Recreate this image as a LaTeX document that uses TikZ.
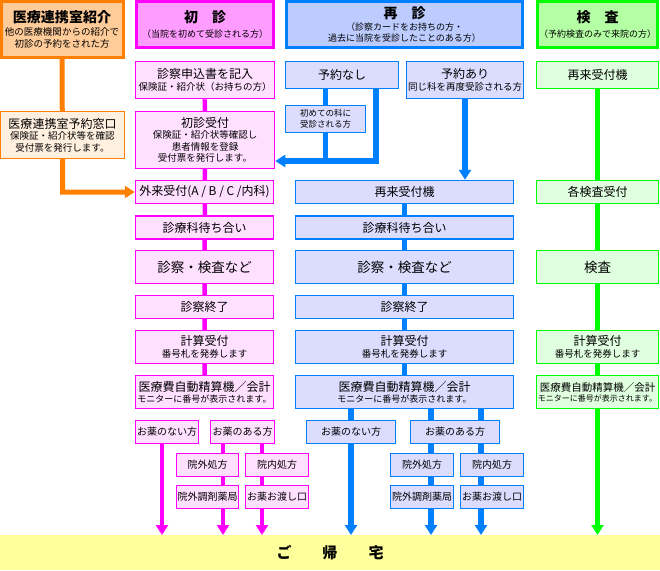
\documentclass[tikz,border=0pt]{standalone}
\usepackage{fontspec}
\setmainfont{Noto Sans CJK JP}
\usetikzlibrary{arrows.meta,backgrounds}
\definecolor{pkline}{HTML}{FF00FF}
\definecolor{pkfill}{HTML}{FFE0FF}
\definecolor{pkhfill}{HTML}{FF9CFF}
\definecolor{buline}{HTML}{0080FF}
\definecolor{bufill}{HTML}{DCDCFF}
\definecolor{buhfill}{HTML}{BCCCFF}
\definecolor{grline}{HTML}{00FF00}
\definecolor{grfill}{HTML}{E0FFE0}
\definecolor{grhfill}{HTML}{B4FFA4}
\definecolor{orline}{HTML}{FF8000}
\definecolor{orfill}{HTML}{FFF0E0}
\definecolor{orhfill}{HTML}{FFCC99}
\definecolor{homefill}{HTML}{FFFF9C}
\newcommand\headfs{\fontsize{14}{17}\selectfont\bfseries}
\newcommand\mainfs{\fontsize{12}{14}\selectfont}
\newcommand\subfs{\fontsize{9.5}{11.5}\selectfont}
\newcommand\hsubfs{\fontsize{9}{11}\selectfont}
\newcommand\smallfs{\fontsize{10}{12}\selectfont}

\begin{document}
\begin{tikzpicture}[x=1pt, y=-1pt,
  every node/.style={draw, inner sep=0pt, align=center, font=\mainfs, line width=1.5pt},
  sz/.style 2 args={minimum width=#1pt, minimum height=#2pt},
  pk/.style={draw=pkline, fill=pkfill},
  bu/.style={draw=buline, fill=bufill},
  gr/.style={draw=grline, fill=grfill},
  og/.style={draw=orline, fill=orfill},
  hd/.style={line width=3pt, font=\hsubfs},
  two/.style={font=\subfs},
  pkl/.style={draw=pkline, line width=4.5pt},
  bul/.style={draw=buline, line width=5.5pt},
  grl/.style={draw=grline, line width=5pt},
  ogl/.style={draw=orline, line width=5pt},
  arr/.style={-{Triangle[width=12pt,length=10pt]}}]
  \useasboundingbox (0,0) rectangle (660,570);

  \node[og, hd, fill=orhfill, sz={122}{56}, font=\subfs] (orhead) at (62,29) {{\headfs 医療連携室紹介}\\[2pt]他の医療機関からの紹介で\\初診の予約をされた方};
  \node[og, two, sz={124}{47}] (orwin) at (62.5,135) {{\mainfs 医療連携室予約窓口}\\保険証・紹介状等を確認\\受付票を発行します。};

  \node[pk, hd, fill=pkhfill, sz={137}{46}] (pkhead) at (205,24) {{\headfs 初　診}\\[4pt]（当院を初めて受診される方）};
  \node[pk, two, sz={139}{37}] (pkform) at (205,80) {{\mainfs 診察申込書を記入}\\保険証・紹介状（お持ちの方）};
  \node[pk, two, sz={139}{57}] (pkfirst) at (205,140) {{\mainfs 初診受付}\\保険証・紹介状等確認し\\患者情報を登録\\受付票を発行します。};
  \node[pk, sz={138}{23}] (pkrecv) at (204.5,192) {外来受付(A / B / C /内科)};
  \node[pk, sz={138}{23}] (pkwait) at (204.5,227.5) {診療科待ち合い};
  \node[pk, sz={138}{33}, font=\fontsize{13.5}{16}\selectfont] (pkexam) at (204.5,267) {診察・検査など};
  \node[pk, sz={138}{23}] (pkend) at (204.5,307) {診察終了};
  \node[pk, two, sz={138}{33}] (pkcalc) at (204.5,347) {{\mainfs 計算受付}\\番号札を発券します};
  \node[pk, sz={138}{33}, font=\hsubfs] (pkpay) at (204.5,392) {{\mainfs 医療費自動精算機／会計}\\モニターに番号が表示されます。};
  \node[pk, sz={63}{23}, font=\smallfs] (pknone) at (167,432) {お薬のない方};
  \node[pk, sz={64}{23}, font=\smallfs] (pkhave) at (242.5,432) {お薬のある方};
  \node[pk, sz={62}{23}, font=\smallfs] (pkout) at (207.5,465) {院外処方};
  \node[pk, sz={63}{23}, font=\smallfs] (pkin) at (277,465) {院内処方};
  \node[pk, sz={62}{23}, font=\smallfs] (pkphar) at (207.5,497) {院外調剤薬局};
  \node[pk, sz={63}{23}, font=\smallfs] (pkhand) at (277,497) {お薬お渡し口};

  \node[bu, hd, fill=buhfill, sz={236}{46}] (buhead) at (404.5,24) {{\headfs 再　診}\\[1pt]（診察カードをお持ちの方・\\過去に当院を受診したことのある方）};
  \node[bu, sz={113}{27}] (bunone) at (342,75) {予約なし};
  \node[bu, two, sz={117}{37}] (buyes) at (465,80) {{\mainfs 予約あり}\\同じ科を再度受診される方};
  \node[bu, sz={80}{27}, font=\fontsize{8.5}{11}\selectfont] (bufirst) at (325.5,119) {初めての科に\\受診される方};
  \node[bu, sz={218}{23}] (burecv) at (404.5,192) {再来受付機};
  \node[bu, sz={218}{23}] (buwait) at (404.5,227.5) {診療科待ち合い};
  \node[bu, sz={218}{33}, font=\fontsize{13.5}{16}\selectfont] (buexam) at (404.5,267) {診察・検査など};
  \node[bu, sz={218}{23}] (buend) at (404.5,307) {診察終了};
  \node[bu, two, sz={218}{33}] (bucalc) at (404.5,347) {{\mainfs 計算受付}\\番号札を発券します};
  \node[bu, sz={218}{33}, font=\hsubfs] (bupay) at (404.5,392) {{\mainfs 医療費自動精算機／会計}\\モニターに番号が表示されます。};
  \node[bu, sz={89}{23}, font=\smallfs] (bunomed) at (351,432) {お薬のない方};
  \node[bu, sz={89}{23}, font=\smallfs] (buhave) at (455,432) {お薬のある方};
  \node[bu, sz={63}{23}, font=\smallfs] (buout) at (422,465) {院外処方};
  \node[bu, sz={63}{23}, font=\smallfs] (buin) at (492,465) {院内処方};
  \node[bu, sz={63}{23}, font=\smallfs] (buphar) at (422,497) {院外調剤薬局};
  \node[bu, sz={63}{23}, font=\smallfs] (buhand) at (492,497) {お薬お渡し口};

  \node[gr, hd, fill=grhfill, sz={120}{46}] (grhead) at (597.5,24) {{\headfs 検　査}\\[4pt]（予約検査のみで来院の方）};
  \node[gr, sz={122}{27}] (grmach) at (597.5,75) {再来受付機};
  \node[gr, sz={122}{23}] (grrecv) at (597.5,192) {各検査受付};
  \node[gr, sz={122}{33}, font=\fontsize{13.5}{16}\selectfont] (grexam) at (597.5,267) {検査};
  \node[gr, two, sz={122}{33}] (grcalc) at (597.5,347) {{\mainfs 計算受付}\\番号札を発券します};
  \node[gr, sz={122}{33}, font=\fontsize{8}{10}\selectfont] (grpay) at (597.5,392) {{\fontsize{10.5}{12.5}\selectfont 医療費自動精算機／会計}\\モニターに番号が表示されます。};

  \node[draw=none, fill=homefill, sz={660}{35}, font=\fontsize{15}{18}\selectfont\bfseries] (home) at (330,552.5) {ご\hspace{31pt}帰\hspace{31pt}宅};

  \coordinate (bujoin) at (376,161);
  \coordinate (pkA) at (162,535);
  \coordinate (pkB) at (223,535);
  \coordinate (pkC) at (262,535);
  \coordinate (buA) at (351,535);
  \coordinate (buB) at (431,535);
  \coordinate (buC) at (481,535);
  \coordinate (grA) at (597.5,535);

  \begin{scope}[on background layer]
    \draw[ogl, arr] (orhead.south) -- (orwin.south) |- (pkrecv.west);
    \draw[pkl] (pkform) -- (pkpay);
    \draw[pkl, arr] (pknone.south -| pkA) -- (pkA);
    \draw[pkl, arr] (pkhave.south -| pkB) -- (pkB);
    \draw[pkl, arr] (pkhave.south -| pkC) -- (pkC);
    \draw[bul] (bunone.south -| bufirst) -- (bufirst |- bujoin);
    \draw[bul, arr] (bunone.south -| bujoin) -- (bujoin) -- (pkfirst.east |- bujoin);
    \draw[bul, arr] (buyes.south) -- (burecv.north -| buyes);
    \draw[bul] (burecv) -- (bupay);
    \draw[bul] (bupay.south -| bunomed) -- (bunomed.north);
    \draw[bul] (bupay.south -| buB) -- (buhave.north -| buB);
    \draw[bul] (bupay.south -| buC) -- (buhave.north -| buC);
    \draw[bul, arr] (bunomed.south) -- (buA);
    \draw[bul, arr] (buhave.south -| buB) -- (buB);
    \draw[bul, arr] (buhave.south -| buC) -- (buC);
    \draw[grl] (grmach) -- (grpay);
    \draw[grl, arr] (grpay.south) -- (grA);
  \end{scope}
\end{tikzpicture}
\end{document}
